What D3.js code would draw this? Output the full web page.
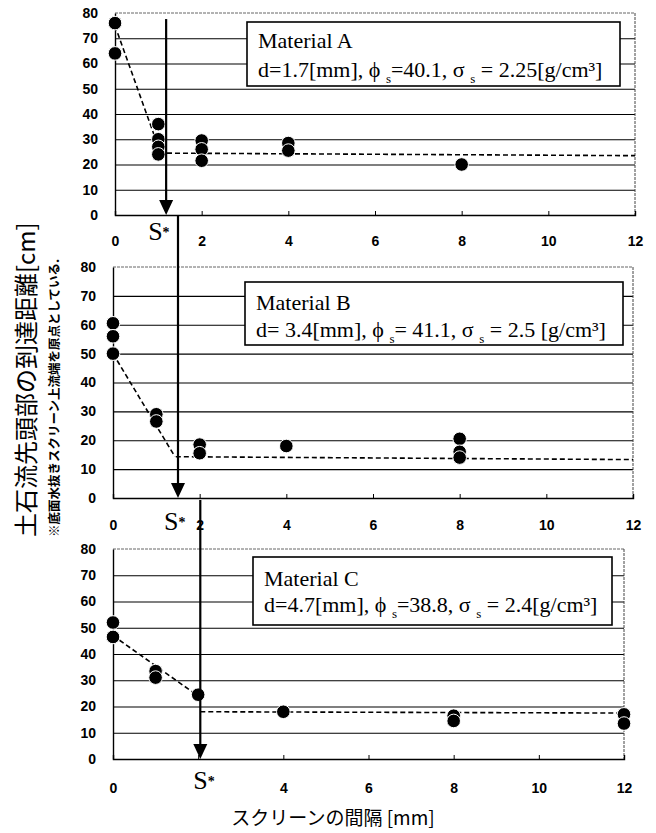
<!DOCTYPE html>
<html>
<head>
<meta charset="utf-8">
<script src="https://cdn.jsdelivr.net/npm/d3@7"></script>
<style>
  html, body { margin: 0; padding: 0; background: #fff; }
  svg { display: block; }
  .tick text { font-family: "Liberation Sans", Arial, sans-serif; font-weight: bold; font-size: 14px; fill: #000; }
</style>
</head>
<body>
<div id="chart"></div>
<script>
// Daten je Material (Abstand der Screen [mm] / Reichweite [cm])
const xA = [0, 0, 1, 1, 1, 1, 2, 2, 2, 4, 4, 8];
const yA = [76, 64, 36, 30, 27, 24, 29.5, 26, 21.5, 28.5, 25.5, 20];
const xB = [0, 0, 0, 1, 1, 2, 2, 4, 8, 8, 8];
const yB = [60.5, 56, 50, 29, 26.5, 18.5, 15.5, 18, 20.5, 16, 14];
const xC = [0, 0, 1, 1, 2, 4, 8, 8, 12, 12];
const yC = [52, 46.5, 33.5, 31, 24.5, 18, 16.5, 14.5, 17, 13.5];

// gestrichelte Näherung: zwei Segmente je Material
const fitA = [[[0, 75], [1, 27]], [[1.2, 24.5], [12, 23.5]]];
const fitB = [[[0, 50], [1.43, 14.3]], [[1.45, 14.3], [12, 13.3]]];
const fitC = [[[0, 47], [2, 24]], [[2.05, 18], [12, 17.5]]];

// S* (kritischer Abstand)
const sStar = [1.18, 1.5, 2.05];

const materialNames = ['Material A', 'Material B', 'Material C'];
const paramD = ['1.7', ' 3.4', '4.7'];
const paramPhi = ['=40.1', '= 41.1', '=38.8'];
const paramSigma = [' = 2.25[g/cm³]', ' = 2.5 [g/cm³]', ' = 2.4[g/cm³]'];

const xTicks = [0, 2, 4, 6, 8, 10, 12];
const yTicks = [0, 10, 20, 30, 40, 50, 60, 70, 80];

const yTitle = '土石流先頭部の到達距離[cm]';
const yNote = '※底面水抜きスクリーン上流端を原点としている.';
const xTitle = 'スクリーンの間隔 [mm]';

const W = 656, H = 833;

// Layout der drei Teilgrafiken
const layout = [
  {left: 115, right: 635, top: 13, bottom: 215, tickY: 243, box: [247, 22, 373, 64], base: [26, 55], sDx: -18, sY: 240, skip: []},
  {left: 113, right: 633, top: 267, bottom: 498, tickY: 527, box: [245, 282, 378, 63], base: [28, 55], sDx: -14, sY: 530, skip: []},
  {left: 113, right: 624, top: 549, bottom: 759, tickY: 790, box: [253, 557, 359, 68], base: [29, 55], sDx: -7, sY: 789, skip: [2]},
];

const series = [
  {xs: xA, ys: yA, fit: fitA},
  {xs: xB, ys: yB, fit: fitB},
  {xs: xC, ys: yC, fit: fitC},
];

const svg = d3.select('#chart').append('svg').attr('width', W).attr('height', H);

const scales = layout.map(L => ({
  x: d3.scaleLinear().domain([0, 12]).range([L.left, L.right]),
  y: d3.scaleLinear().domain([0, 80]).range([L.bottom, L.top]),
}));

layout.forEach((L, i) => {
  const {x, y} = scales[i];
  const s = series[i];
  const g = svg.append('g');

  // Gitterlinien
  g.append('g')
    .attr('transform', `translate(${L.left},0)`)
    .call(d3.axisLeft(y).tickValues(yTicks.filter(v => v > 0 && v < 80)).tickSize(-(L.right - L.left)).tickFormat(''))
    .call(a => a.select('.domain').remove())
    .call(a => a.selectAll('line').attr('stroke', '#000').attr('stroke-width', 1.1));

  // obere Linie und rechter Rand
  g.append('line').attr('x1', L.left).attr('x2', L.right).attr('y1', y(80)).attr('y2', y(80))
    .attr('stroke', '#555').attr('stroke-width', 0.9).attr('stroke-dasharray', '3,1');
  g.append('line').attr('x1', L.right).attr('x2', L.right).attr('y1', y(80)).attr('y2', y(0))
    .attr('stroke', '#444').attr('stroke-width', 1).attr('stroke-dasharray', '3,1');

  // Y-Achse
  g.append('g')
    .attr('transform', `translate(${L.left},0)`)
    .call(d3.axisLeft(y).tickValues(yTicks).tickSize(0).tickPadding(17))
    .call(a => a.select('.domain').attr('stroke', '#000').attr('stroke-width', 1.4));

  // X-Achse (Ticks nach innen)
  g.append('g')
    .attr('transform', `translate(0,${L.bottom})`)
    .call(d3.axisBottom(x).tickValues(xTicks).tickSize(-4).tickFormat(''))
    .call(a => a.select('.domain').attr('stroke', '#000').attr('stroke-width', 1.4))
    .call(a => a.selectAll('line').attr('stroke', '#000'));

  g.append('g')
    .attr('transform', `translate(0,${L.tickY - 7})`)
    .call(d3.axisBottom(x).tickValues(xTicks.filter(v => !L.skip.includes(v))).tickSize(0).tickPadding(0))
    .call(a => a.select('.domain').remove())
    .call(a => a.selectAll('text').attr('dy', '0.71em'));

  // gestrichelte Näherung
  const line = d3.line().x(d => x(d[0])).y(d => y(d[1]));
  g.selectAll('path.fit').data(s.fit).join('path')
    .attr('class', 'fit')
    .attr('d', line)
    .attr('fill', 'none')
    .attr('stroke', '#000')
    .attr('stroke-width', 1.6)
    .attr('stroke-dasharray', '5,3');

  // Messpunkte
  g.selectAll('circle').data(d3.range(s.xs.length)).join('circle')
    .attr('cx', k => x(s.xs[k]))
    .attr('cy', k => y(s.ys[k]))
    .attr('r', 6.8)
    .attr('fill', '#000')
    .attr('stroke', '#fff')
    .attr('stroke-width', 1);

  // Textbox
  const [bx, by, bw, bh] = L.box;
  g.append('rect').attr('x', bx).attr('y', by).attr('width', bw).attr('height', bh)
    .attr('fill', '#fff').attr('stroke', '#000').attr('stroke-width', 1.6);
  const tf = '"Liberation Serif", "Times New Roman", serif';
  g.append('text').attr('x', bx + 11).attr('y', by + L.base[0])
    .attr('font-family', tf).attr('font-size', 22).text(materialNames[i]);
  const t = g.append('text').attr('x', bx + 11).attr('y', by + L.base[1])
    .attr('font-family', tf).attr('font-size', 22);
  t.append('tspan').text(`d=${paramD[i]}[mm], ϕ `);
  t.append('tspan').attr('dy', 6).attr('font-size', 13).text('s');
  t.append('tspan').attr('dy', -6).text(`${paramPhi[i]}, σ `);
  t.append('tspan').attr('dy', 6).attr('font-size', 13).text('s');
  t.append('tspan').attr('dy', -6).text(paramSigma[i]);
});

// S*-Pfeile
const arrowTop = [scales[0].y(77.6), layout[0].bottom, layout[1].bottom + 2];
sStar.forEach((v, i) => {
  const L = layout[i];
  const ax = scales[i].x(v);
  svg.append('line').attr('x1', ax).attr('x2', ax).attr('y1', arrowTop[i]).attr('y2', L.bottom - 12)
    .attr('stroke', '#000').attr('stroke-width', 2.2);
  svg.append('path')
    .attr('d', `M${ax - 7},${L.bottom - 15}L${ax + 7},${L.bottom - 15}L${ax},${L.bottom}Z`)
    .attr('fill', '#000');
  const lab = svg.append('text').attr('x', ax + L.sDx).attr('y', L.sY)
    .attr('font-family', '"Liberation Serif", "Times New Roman", serif').attr('font-size', 26);
  lab.append('tspan').text('S');
  lab.append('tspan').attr('font-size', 14).attr('font-weight', 'bold').attr('dy', -3).text('*');
});

// Achsentitel
svg.append('text')
  .attr('transform', 'translate(35,537) rotate(-90)')
  .attr('font-family', '"Noto Sans CJK JP", sans-serif')
  .attr('font-size', 24)
  .text(yTitle);
svg.append('text')
  .attr('transform', 'translate(59,537) rotate(-90)')
  .attr('font-family', '"Noto Sans CJK JP", sans-serif')
  .attr('font-weight', 'bold')
  .attr('font-size', 12.5)
  .text(yNote);
svg.append('text')
  .attr('x', 333).attr('y', 825)
  .attr('text-anchor', 'middle')
  .attr('font-family', '"Noto Sans CJK JP", sans-serif')
  .attr('font-size', 19)
  .text(xTitle);
</script>
</body>
</html>
